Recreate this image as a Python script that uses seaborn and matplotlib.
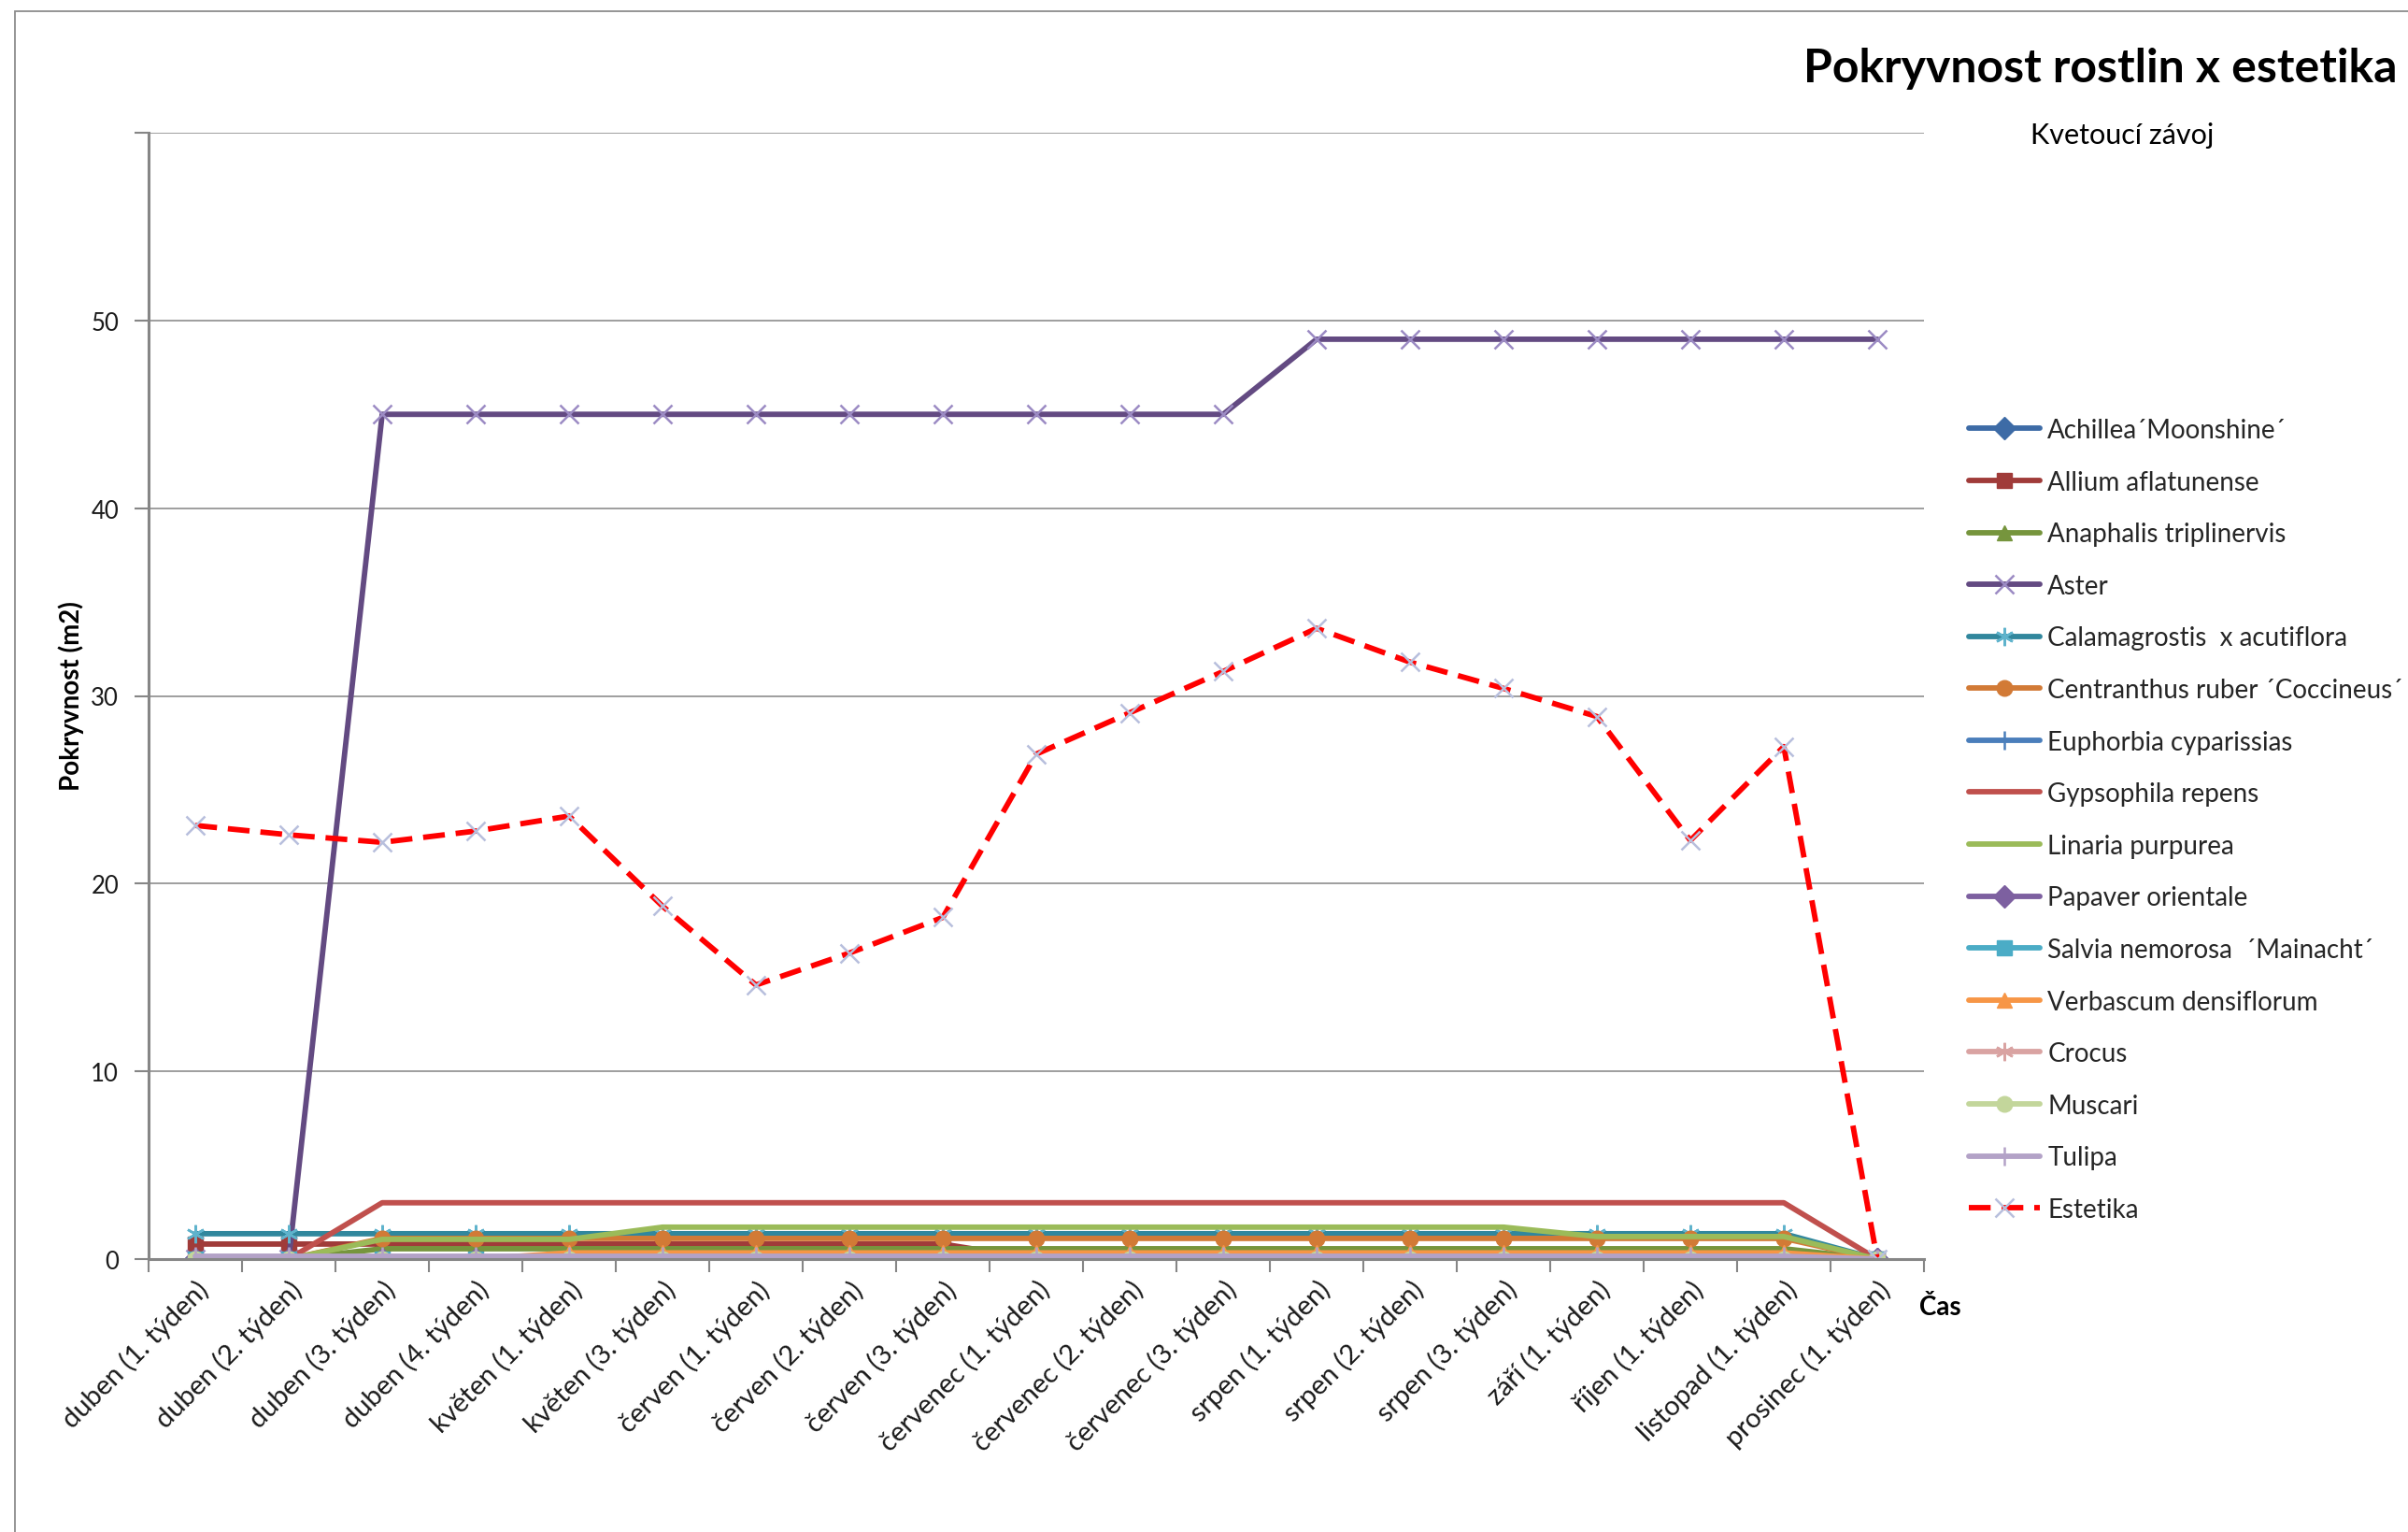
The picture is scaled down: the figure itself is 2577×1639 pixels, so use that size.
import matplotlib
matplotlib.use("Agg")
import matplotlib.pyplot as plt
import seaborn as sns
from matplotlib.lines import Line2D
from matplotlib.patches import Rectangle

# --- data -------------------------------------------------------------------
categories = [
    "duben (1. týden)", "duben (2. týden)", "duben (3. týden)", "duben (4. týden)",
    "květen (1. týden)", "květen (3. týden)", "červen (1. týden)", "červen (2. týden)",
    "červen (3. týden)", "červenec (1. týden)", "červenec (2. týden)", "červenec (3. týden)",
    "srpen (1. týden)", "srpen (2. týden)", "srpen (3. týden)", "září (1. týden)",
    "říjen (1. týden)", "listopad (1. týden)", "prosinec (1. týden)",
]

achillea = [0, 0, 0, 0, 0, 0, 0, 0, 0, 0, 0, 0, 0, 0, 0, 0, 0, 0, 0]
allium = [0.8, 0.8, 0.8, 0.8, 0.8, 0.8, 0.8, 0.8, 0.8, 0, 0, 0, 0, 0, 0, 0, 0, 0, 0]
anaphalis = [0, 0, 0.55, 0.55, 0.55, 0.55, 0.55, 0.55, 0.55, 0.55, 0.55, 0.55, 0.55, 0.55, 0.55, 0.55, 0.55, 0.55, 0]
aster = [0, 0, 45, 45, 45, 45, 45, 45, 45, 45, 45, 45, 49, 49, 49, 49, 49, 49, 49]
calamagrostis = [1.35, 1.35, 1.35, 1.35, 1.35, 1.35, 1.35, 1.35, 1.35, 1.35, 1.35, 1.35, 1.35, 1.35, 1.35, 1.35, 1.35, 1.35, 0]
centranthus = [0, 0, 1.1, 1.1, 1.1, 1.1, 1.1, 1.1, 1.1, 1.1, 1.1, 1.1, 1.1, 1.1, 1.1, 1.1, 1.1, 1.1, 0]
euphorbia = [0, 0, 0, 0, 0, 0, 0, 0, 0, 0, 0, 0, 0, 0, 0, 0, 0, 0, 0]
gypsophila = [0, 0, 3, 3, 3, 3, 3, 3, 3, 3, 3, 3, 3, 3, 3, 3, 3, 3, 0]
linaria = [0, 0, 1.05, 1.05, 1.05, 1.7, 1.7, 1.7, 1.7, 1.7, 1.7, 1.7, 1.7, 1.7, 1.7, 1.2, 1.2, 1.2, 0]
papaver = [0, 0, 0, 0, 0, 0, 0, 0, 0, 0, 0, 0, 0, 0, 0, 0, 0, 0, 0]
salvia = [0, 0, 0, 0, 0, 0, 0, 0, 0, 0, 0, 0, 0, 0, 0, 0, 0, 0, 0]
verbascum = [0, 0, 0, 0, 0.33, 0.33, 0.33, 0.33, 0.33, 0.33, 0.33, 0.33, 0.33, 0.33, 0.33, 0.33, 0.33, 0.33, 0]
crocus = [0, 0, 0, 0, 0, 0, 0, 0, 0, 0, 0, 0, 0, 0, 0, 0, 0, 0, 0]
muscari = [0, 0, 0, 0, 0, 0, 0, 0, 0, 0, 0, 0, 0, 0, 0, 0, 0, 0, 0]
tulipa = [0.15, 0.15, 0.15, 0.15, 0.15, 0.15, 0.15, 0.15, 0.15, 0.15, 0.15, 0.15, 0.15, 0.15, 0.15, 0.15, 0.15, 0.15, 0]
estetika = [23.1, 22.6, 22.2, 22.8, 23.6, 18.8, 14.6, 16.3, 18.2, 26.9, 29.1, 31.3,
            33.6, 31.8, 30.4, 28.9, 22.3, 27.3, 0]

y_ticks = [0, 10, 20, 30, 40, 50, 60]
y_tick_labels = ["0", "10", "20", "30", "40", "50", ""]

# name, values, line colour, marker, marker face colour
series = [
    ("Achillea´Moonshine´", achillea, "#3D6BA6", "D", "#3D6BA6"),
    ("Allium aflatunense", allium, "#A03B39", "s", "#A03B39"),
    ("Anaphalis triplinervis", anaphalis, "#76953D", "^", "#76953D"),
    ("Aster", aster, "#634A82", "x", "#9C8BC4"),
    ("Calamagrostis  x acutiflora", calamagrostis, "#31879D", (6, 2, 0), "#5FB3CC"),
    ("Centranthus ruber ´Coccineus´", centranthus, "#D27A36", "o", "#D27A36"),
    ("Euphorbia cyparissias", euphorbia, "#4A7EBB", "|", "#4A7EBB"),
    ("Gypsophila repens", gypsophila, "#C0504D", None, "#C0504D"),
    ("Linaria purpurea", linaria, "#9BBB59", None, "#9BBB59"),
    ("Papaver orientale", papaver, "#7D60A0", "D", "#7D60A0"),
    ("Salvia nemorosa  ´Mainacht´", salvia, "#4BACC6", "s", "#4BACC6"),
    ("Verbascum densiflorum", verbascum, "#F79646", "^", "#F79646"),
    ("Crocus", crocus, "#D9A3A2", (6, 2, 0), "#D9A3A2"),
    ("Muscari", muscari, "#C3D69B", "o", "#C3D69B"),
    ("Tulipa", tulipa, "#B3A2C7", "|", "#B3A2C7"),
]

# --- style ------------------------------------------------------------------
sns.set_theme(style="white")
plt.rcParams["font.family"] = ["Lato", "DejaVu Sans"]

W, H = 2577, 1640
fig = plt.figure(figsize=(W / 100, H / 100), dpi=100)
fig.patch.set_facecolor("white")

# outer chart frame
fig.patches.append(Rectangle((16 / W, -0.02), 1.1, 1 - 13 / H + 0.02,
                             transform=fig.transFigure, fill=False,
                             edgecolor="#8C8C8C", lw=1.3, zorder=0))

left, right, top, bottom = 159, 2059, 143, 1348
ax = fig.add_axes([left / W, 1 - bottom / H, (right - left) / W, (bottom - top) / H])

x_pos = list(range(len(categories)))
LW = 4.2
MS = 12
DASH = [4.0, 2.0]

handles = []
for name, vals, col, mk, mfc in series:
    unfilled = mk in ("x", "|") or isinstance(mk, tuple)
    kw = dict(marker=mk, markersize=MS if not unfilled else MS + 2)
    if mk is not None:
        if unfilled:
            kw.update(markeredgecolor=mfc, markeredgewidth=1.8)
        else:
            kw.update(markerfacecolor=mfc, markeredgecolor=mfc, markeredgewidth=1)
    sns.lineplot(x=x_pos, y=vals, ax=ax, color=col, lw=LW, sort=False,
                 estimator=None, legend=False, solid_capstyle="round", **kw)
    handles.append(Line2D([], [], color=col, lw=LW, solid_capstyle="round", **kw))

# aesthetics score drawn last, dashed red
sns.lineplot(x=x_pos, y=estetika, ax=ax, color="#FF0000", lw=LW, sort=False,
             estimator=None, legend=False, dashes=False)
est_line = ax.lines[-1]
est_line.set_dashes(DASH)
est_line.set_marker("x")
est_line.set_markersize(MS + 2)
est_line.set_markeredgecolor("#B8BFDD")
est_line.set_markeredgewidth(1.8)
handles.append(Line2D([], [], color="#FF0000", lw=LW, dashes=DASH,
                      marker="x", markersize=MS + 2, markeredgecolor="#B8BFDD",
                      markeredgewidth=1.8))
labels = [s[0] for s in series] + ["Estetika"]

# --- axes -------------------------------------------------------------------
ax.set_xlim(-0.5, len(categories) - 0.5)
ax.set_ylim(0, 60)
ax.set_yticks(y_ticks)
ax.set_yticklabels(y_tick_labels)
ax.yaxis.grid(True, color="#8E8E8E", lw=1.2)
ax.xaxis.grid(False)
ax.set_axisbelow(True)

ax.set_xticks(x_pos)
ax.set_xticklabels(categories, rotation=45, ha="right", va="top",
                   rotation_mode="anchor", fontsize=21, color="#1A1A1A")
ax.set_xticks([i - 0.5 for i in range(len(categories) + 1)], minor=True)
ax.tick_params(axis="x", which="major", length=0, pad=13)
ax.tick_params(axis="x", which="minor", length=10, width=1.5, color="#868686",
               direction="out", bottom=True)
ax.tick_params(axis="y", length=11, width=1.5, color="#868686", direction="out",
               left=True, labelsize=18.5, labelcolor="#1A1A1A", pad=12)

for s in ("top", "right"):
    ax.spines[s].set_visible(False)
for s in ("left", "bottom"):
    ax.spines[s].set_color("#868686")
    ax.spines[s].set_linewidth(2.2)
ax.set_xlabel("")
ax.set_ylabel("")

# --- text -------------------------------------------------------------------
fig.text(2248 / W, 1 - 74 / H, "Pokryvnost rostlin x estetika", ha="center",
         va="center", fontsize=36, fontweight="bold", color="black")
fig.text(2271 / W, 1 - 145 / H, "Kvetoucí závoj", ha="center", va="center",
         fontsize=22, color="black")
fig.text(76 / W, 1 - 745 / H, "Pokryvnost (m2)", rotation=90, ha="center",
         va="center", fontsize=20, fontweight="bold", color="black")
fig.text(2076 / W, 1 - 1399 / H, "Čas", ha="center", va="center",
         fontsize=20, fontweight="bold", color="black")

fig.legend(handles, labels, loc="center left",
           bbox_to_anchor=(2107 / W, 1 - 878 / H), frameon=False,
           fontsize=20, handlelength=2.75, handletextpad=0.28,
           labelspacing=1.065, borderpad=0, borderaxespad=0)

fig.savefig("out.png", dpi=100, facecolor="white")
